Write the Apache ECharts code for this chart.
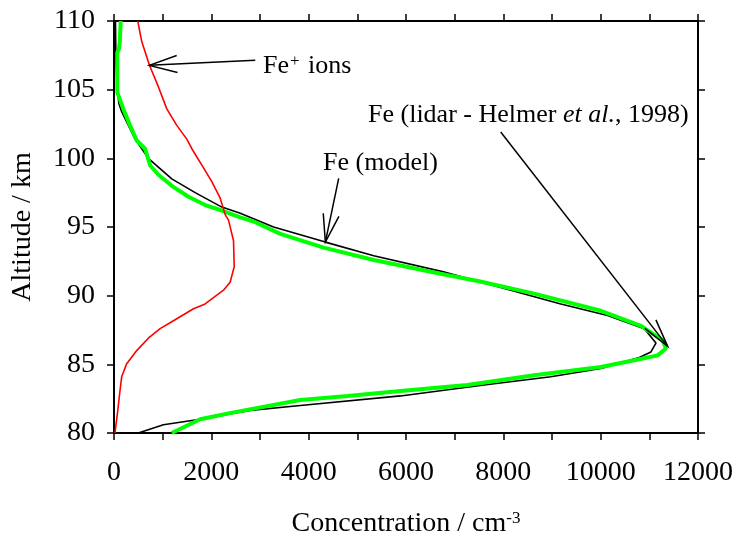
<!DOCTYPE html>
<html lang="en">
<head>
<meta charset="UTF-8">
<title>Fe / Fe+ altitude profiles</title>
<script src="https://cdn.jsdelivr.net/npm/echarts@6/dist/echarts.min.js"></script>
<style>
  html, body { margin: 0; padding: 0; background: #fff; }
  #main { width: 734px; height: 536px; }
</style>
</head>
<body>
<div id="main"></div>
<script>
var FONT = '"Liberation Serif", "Times New Roman", serif';

// Fe+ ions (red)
var ionAlt  = [110, 108.5, 106.8, 105.2, 103.6, 102.4, 101.4, 100.7, 99.5, 98.3, 97.1, 95.9, 95.5, 94.0, 92.1, 91.0, 90.4, 89.4, 89.05, 88.1, 87.6, 86.9, 86.0, 85.05, 84.1, 83.1, 81.6, 80];
var ionConc = [488, 570, 727, 913, 1085, 1290, 1496, 1599, 1805, 2010, 2182, 2285, 2353, 2456, 2470, 2388, 2250, 1873, 1633, 1187, 947, 706, 467, 261, 158, 124, 76, 20];

// Fe lidar, Helmer et al. 1998 (black)
var lidarAlt  = [110, 107, 105, 104, 103.4, 102.5, 101.4, 100.0, 98.5, 97.5, 96.45, 96.0, 95.0, 93.9, 92.9, 91.75, 90.6, 89.4, 88.55, 87.6, 86.55, 85.9, 85.5, 84.7, 84.1, 83.5, 82.7, 82.0, 81.65, 81.0, 80.6, 80.0];
var lidarConc = [30, 40, 70, 100, 158, 280, 432, 706, 1187, 1668, 2216, 2594, 3279, 4343, 5338, 6750, 7946, 9181, 10142, 10897, 11136, 11033, 10793, 10004, 8975, 7602, 5887, 3829, 2800, 1770, 1015, 500];

// Fe model (green)
var modelAlt  = [110, 108.5, 108, 107.7, 104.8, 104.6, 103.6, 102.4, 101.3, 100.7, 99.5, 98.8, 98.0, 97.2, 96.6, 96.2, 95.7, 95.35, 94.5, 93.5, 92.6, 92.2, 91.6, 91.05, 90.15, 88.9, 87.8, 86.75, 86.15, 85.65, 85.3, 84.8, 84.2, 83.5, 83.05, 82.7, 82.4, 81.5, 81.0, 80.0];
var modelConc = [138, 120, 103, 68, 68, 89, 191, 329, 467, 638, 741, 912, 1187, 1530, 1873, 2216, 2594, 2902, 3417, 4309, 5338, 5887, 6711, 7500, 8632, 10004, 10828, 11274, 11342, 11171, 10690, 10004, 8632, 7260, 5887, 4800, 3829, 2456, 1770, 1187];

var xLabelValues = [0, 2000, 4000, 6000, 8000, 10000, 12000];

function pairs(conc, alt) {
  return conc.map(function (c, i) { return [c, alt[i]]; });
}

var chart = echarts.init(document.getElementById('main'));

var axisLine = { show: true, onZero: false, lineStyle: { color: '#000', width: 2 } };
var axisTick = { show: true, length: 7, lineStyle: { color: '#000', width: 1.5 } };
var labelStyle = { color: '#000', fontFamily: FONT, fontSize: 28 };

var option = {
  animation: false,
  backgroundColor: '#fff',
  grid: { left: 114, right: 36, top: 21, bottom: 103, outerBoundsMode: 'none', containLabel: false },
  xAxis: [
    {
      type: 'value', position: 'bottom', min: 0, max: 12000, interval: 1000,
      axisLine: axisLine, axisTick: axisTick, splitLine: { show: false },
      axisLabel: Object.assign({
        margin: 26,
        formatter: function (v) { return xLabelValues.indexOf(v) >= 0 ? String(v) : ''; }
      }, labelStyle),
      name: 'Concentration / cm{sup|-3}',
      nameLocation: 'middle', nameGap: 77,
      nameTextStyle: {
        color: '#000', fontFamily: FONT, fontSize: 28,
        rich: { sup: { fontFamily: FONT, fontSize: 17, color: '#000', verticalAlign: 'top' } }
      }
    },
    {
      type: 'value', position: 'top', min: 0, max: 12000, interval: 1000,
      axisLine: axisLine, axisTick: axisTick, splitLine: { show: false },
      axisLabel: { show: false }
    }
  ],
  yAxis: [
    {
      type: 'value', position: 'left', min: 80, max: 110, interval: 5,
      axisLine: axisLine, axisTick: axisTick, splitLine: { show: false },
      axisLabel: Object.assign({ margin: 19 }, labelStyle),
      name: 'Altitude / km', nameLocation: 'middle', nameGap: 77,
      nameTextStyle: { color: '#000', fontFamily: FONT, fontSize: 28 }
    },
    {
      type: 'value', position: 'right', min: 80, max: 110, interval: 5,
      axisLine: axisLine, axisTick: axisTick, splitLine: { show: false },
      axisLabel: { show: false }
    }
  ],
  series: [
    {
      name: 'Fe (lidar)', type: 'line', showSymbol: false, z: 2,
      data: pairs(lidarConc, lidarAlt),
      lineStyle: { color: '#000', width: 1.6 }
    },
    {
      name: 'Fe (model)', type: 'line', showSymbol: false, z: 3,
      data: pairs(modelConc, modelAlt),
      lineStyle: { color: '#00ff00', width: 4 }
    },
    {
      name: 'Fe+ ions', type: 'line', showSymbol: false, z: 4,
      data: pairs(ionConc, ionAlt),
      lineStyle: { color: '#ff0000', width: 1.6 }
    }
  ]
};

chart.setOption(option);

// annotation arrows, anchored in data coordinates
var arrows = [
  { tip: [727, 106.77], tail: [2902, 107.14], spread: 17 },
  { tip: [4343, 93.9], tail: [4617, 98.54], spread: 16 },
  { tip: [11377, 86.31], tail: [7946, 101.92], spread: 14 }
];

function arrowGraphic(a) {
  var p = chart.convertToPixel({ gridIndex: 0 }, a.tip);
  var q = chart.convertToPixel({ gridIndex: 0 }, a.tail);
  var ang = Math.atan2(q[1] - p[1], q[0] - p[0]);
  var len = 29, d = a.spread * Math.PI / 180;
  var arm1 = [p[0] + len * Math.cos(ang + d), p[1] + len * Math.sin(ang + d)];
  var arm2 = [p[0] + len * Math.cos(ang - d), p[1] + len * Math.sin(ang - d)];
  var st = { stroke: '#000', lineWidth: 1.5, fill: null };
  return [
    { type: 'polyline', z: 10, shape: { points: [q, p] }, style: st },
    { type: 'polyline', z: 10, shape: { points: [arm1, p, arm2] }, style: st }
  ];
}

var graphics = [];
arrows.forEach(function (a) { graphics = graphics.concat(arrowGraphic(a)); });

var txtRich = {
  sup: { fontFamily: FONT, fontSize: 17, fill: '#000', verticalAlign: 'top', padding: [0, 2, 6, 1] },
  it: { fontFamily: FONT, fontSize: 26, fontStyle: 'italic', fill: '#000' }
};
function label(x, baseline, text) {
  return {
    type: 'text', z: 10, x: x, y: baseline - 8,
    style: {
      text: text, fill: '#000', fontFamily: FONT, fontSize: 26,
      align: 'left', verticalAlign: 'middle', rich: txtRich
    }
  };
}
graphics.push(label(263, 74, 'Fe{sup|+} ions'));
graphics.push(label(368, 123, 'Fe (lidar - Helmer {it|et al.}, 1998)'));
graphics.push(label(323, 171, 'Fe (model)'));

chart.setOption({ graphic: graphics });
</script>
</body>
</html>
